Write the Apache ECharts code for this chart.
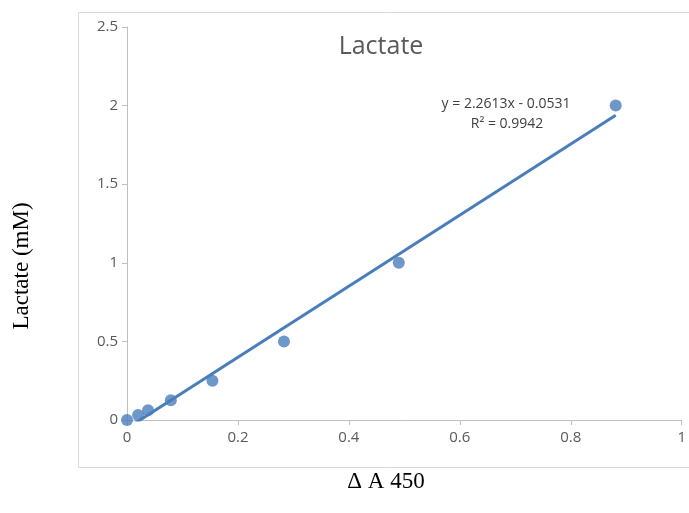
<!DOCTYPE html>
<html><head><meta charset="utf-8">
<script src="https://cdn.jsdelivr.net/npm/echarts@6/dist/echarts.min.js"></script>
<style>html,body{margin:0;padding:0;background:#fff}#c{width:689px;height:513px}</style>
</head><body><div id="c"></div>
<script>
const xValues = [0, 0.02, 0.038, 0.079, 0.154, 0.283, 0.49, 0.881];
const yValues = [0, 0.03125, 0.0625, 0.125, 0.25, 0.5, 1, 2];
const slope = 2.2613, intercept = -0.0531;
const trendX = [0, 0.881];
const title = 'Lactate';
const eqText = 'y = 2.2613x - 0.0531';
const r2Text = 'R² = 0.9942';
const yName = 'Lactate (mM)';
const xName = 'Δ A 450';

const chart = echarts.init(document.getElementById('c'));
const pts = xValues.map((x, i) => [x, yValues[i]]);
const trend = trendX.map(x => [x, slope * x + intercept]);
const font = '"Open Sans", "Liberation Sans", sans-serif';
chart.setOption({
  animation: false,
  grid: {left: 127, top: 27, right: 4, bottom: 93},
  graphic: [
    {type: 'rect', shape: {x: 78.5, y: 12.5, width: 700, height: 455}, style: {fill: 'none', stroke: '#d9d9d9', lineWidth: 1}, z: -1},
    {type: 'text', style: {text: title, x: 381, y: 47, align: 'center', verticalAlign: 'middle', fill: '#595959', font: '25px ' + font}},
    {type: 'text', style: {text: eqText, x: 506, y: 104, align: 'center', verticalAlign: 'middle', fill: '#404040', font: '14px ' + font}},
    {type: 'text', style: {text: r2Text, x: 507, y: 124, align: 'center', verticalAlign: 'middle', fill: '#404040', font: '14px ' + font}},
    {type: 'text', rotation: Math.PI / 2, x: 22, y: 266, style: {text: yName, x: 0, y: 0, align: 'center', verticalAlign: 'middle', fill: '#000', font: '23px "Liberation Serif", serif'}},
    {type: 'text', style: {text: xName, x: 386, y: 482, align: 'center', verticalAlign: 'middle', fill: '#000', font: '23px "Liberation Serif", serif'}}
  ],
  xAxis: {
    type: 'value', min: 0, max: 1, interval: 0.2,
    axisLine: {lineStyle: {color: '#bfbfbf'}},
    axisTick: {show: true, length: 5, lineStyle: {color: '#bfbfbf'}},
    axisLabel: {color: '#595959', fontSize: 15, fontFamily: font, margin: 10},
    splitLine: {show: false}
  },
  yAxis: {
    type: 'value', min: 0, max: 2.5, interval: 0.5,
    axisLine: {show: true, lineStyle: {color: '#bfbfbf'}},
    axisTick: {show: true, length: 5, lineStyle: {color: '#bfbfbf'}},
    axisLabel: {color: '#595959', fontSize: 15, fontFamily: font, margin: 9},
    splitLine: {show: false}
  },
  series: [
    {type: 'line', data: trend, showSymbol: false, symbol: 'none', lineStyle: {color: '#4a7ebb', width: 3}, clip: true, z: 2},
    {type: 'scatter', data: pts, symbolSize: 12, itemStyle: {color: '#4a7ebb'}, clip: false, z: 3}
  ]
});
</script></body></html>
